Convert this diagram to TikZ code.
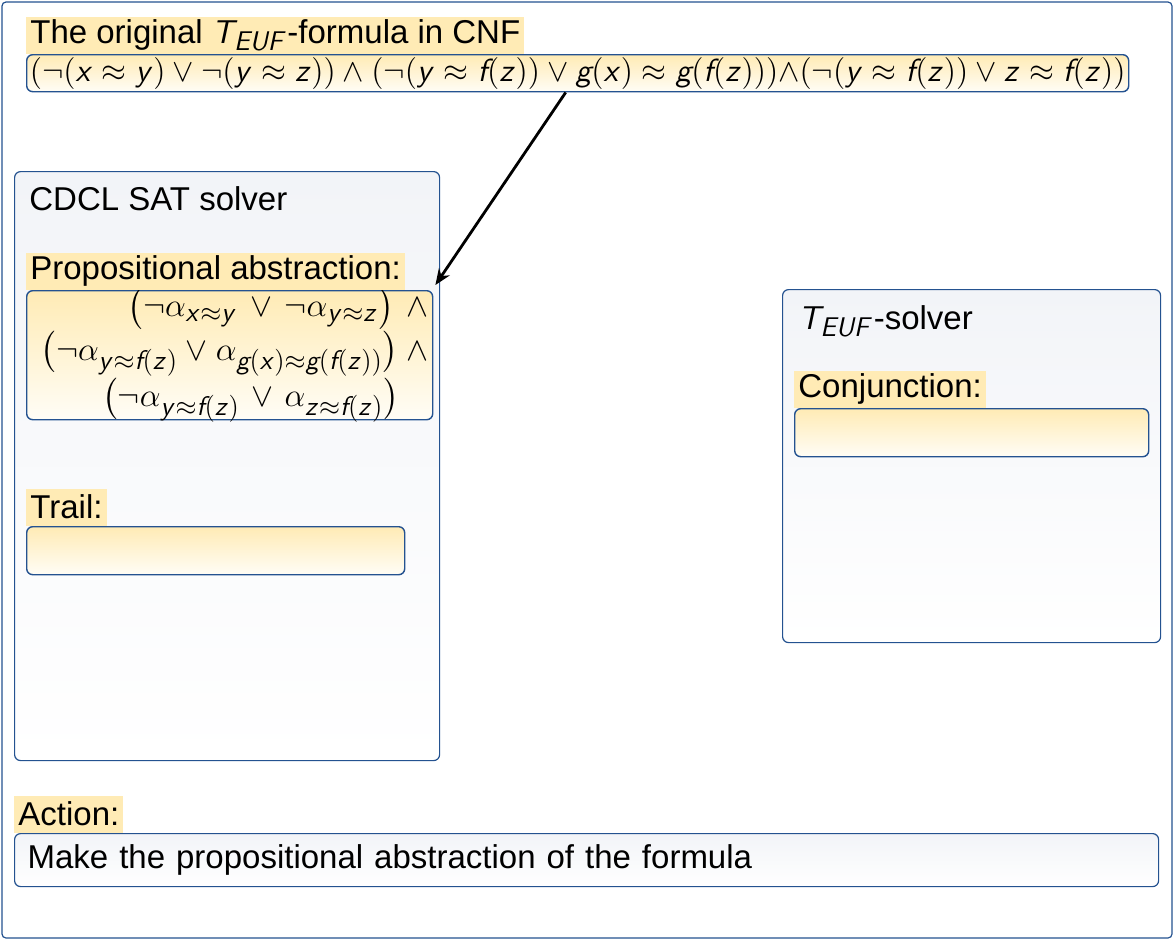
\RequirePackage{fix-cm}
\documentclass[tikz,border=0pt]{standalone}
\usepackage{amsmath}
\usepackage{fontspec}
\setmainfont{Liberation Sans}
\usetikzlibrary{arrows.meta,positioning}
\DeclareSymbolFont{sfletters}{OT1}{cmss}{m}{sl}
\DeclareSymbolFont{sfup}{OT1}{cmss}{m}{n}
\DeclareMathSymbol{x}{\mathalpha}{sfletters}{`x}
\DeclareMathSymbol{y}{\mathalpha}{sfletters}{`y}
\DeclareMathSymbol{z}{\mathalpha}{sfletters}{`z}
\DeclareMathSymbol{T}{\mathalpha}{sfletters}{`T}
\DeclareMathSymbol{E}{\mathalpha}{sfletters}{`E}
\DeclareMathSymbol{U}{\mathalpha}{sfletters}{`U}
\DeclareMathSymbol{F}{\mathalpha}{sfletters}{`F}
\DeclareMathSymbol{(}{\mathopen}{sfup}{`(}
\DeclareMathSymbol{)}{\mathclose}{sfup}{`)}
\DeclareMathSizes{16.5}{16.5}{13.5}{10}
\DeclareMathSizes{16}{16}{13}{9.5}
\definecolor{Edge}{HTML}{245290}
\definecolor{Mark}{HTML}{FFEBB5}
\definecolor{MarkFade}{HTML}{FFFDF6}
\definecolor{Panel}{HTML}{F2F4F8}
\newcommand{\fs}{\fontsize{16.5}{20}\selectfont}
\newcommand{\sv}[1]{\text{\fontencoding{OT1}\fontfamily{cmss}\fontseries{m}\fontshape{sl}\selectfont #1}}
\newcommand{\Fn}{\sv{f}}
\newcommand{\Gn}{\sv{g}}
\newcommand{\Teuf}{T_{EUF}}
\tikzset{
  frame/.style={draw=Edge,line width=.6pt,rounded corners=2pt,fill=white},
  panel/.style={draw=Edge,line width=.6pt,rounded corners=3pt,top color=Panel,bottom color=white,anchor=north west,inner sep=0pt,font=\fs},
  slot/.style={draw=Edge,line width=.7pt,rounded corners=3pt,top color=Mark,bottom color=MarkFade,anchor=north west,inner sep=0pt,font=\fs},
  tag/.style={fill=Mark,anchor=south west,inner xsep=2pt,inner ysep=0pt,minimum height=18.5pt,font=\fs},
  head/.style={anchor=north west,inner sep=0pt,font=\fs},
  flow/.style={-{Stealth[length=8pt,width=6.5pt]},line width=1.4pt}
}

\begin{document}
\begin{tikzpicture}[x=.5pt,y=-.5pt]
  \useasboundingbox (0,0) rectangle (1175,942);
  \draw[frame] (2,2) rectangle (1172,938);
  % input formula
  \node[slot,minimum width=551pt,minimum height=18.5pt,font=\fontsize{16}{20}\selectfont] (cnf) at (26,54) {$(\neg(x\approx y)\vee\neg(y\approx z))\wedge(\neg(y\approx \Fn(z))\vee \Gn(x)\approx \Gn(\Fn(z))){\wedge}(\neg(y\approx \Fn(z))\vee z\approx \Fn(z))$};
  \node[tag] (cnftag) at (cnf.north west) {The original $\Teuf$-formula in CNF};
  % SAT solver
  \node[panel,minimum width=212.5pt,minimum height=294.5pt] (sat) at (14,171) {};
  \node[head] (satname) at ([shift={(7.5pt,-7.5pt)}]sat.north west) {CDCL SAT solver};
  \node[slot,minimum height=64.5pt,text width=199pt,inner xsep=2pt,inner ysep=-1.5pt,align=right,font=\fontsize{16.5}{17.5}\selectfont] (abs) at (26,290) {$\big(\neg\alpha_{x\approx y}\vee\neg\alpha_{y\approx z}\big)\:\wedge$\\$\big(\neg\alpha_{y\approx \Fn(z)}\vee\alpha_{\Gn(x)\approx \Gn(\Fn(z))}\big)\:\wedge$\\$\big(\neg\alpha_{y\approx \Fn(z)}\vee\alpha_{z\approx \Fn(z)}\big)\phantom{\:\wedge}$};
  \node[tag] (abstag) at (abs.north west) {Propositional abstraction:};
  \node[slot,minimum width=189pt,minimum height=24pt] (trail) at (26,526) {};
  \node[tag] (trailtag) at (trail.north west) {Trail:};
  % theory solver
  \node[panel,minimum width=189pt,minimum height=176.5pt] (euf) at (782,289) {};
  \node[head] (eufname) at ([shift={(8pt,-8pt)}]euf.north west) {$\Teuf$-solver};
  \node[slot,minimum width=177pt,minimum height=24pt] (conj) at (794,408) {};
  \node[tag] (conjtag) at (conj.north west) {Conjunction:};
  % action
  \node[panel,minimum width=572pt,minimum height=26.5pt,text width=559pt,inner xsep=6.5pt,align=left] (act) at (14,833) {Make the propositional abstraction of the formula};
  \node[tag] (acttag) at (act.north west) {Action:};
  \draw[flow] ([xshift=-6pt]cnf.south) -- ([xshift=1pt,yshift=2.5pt]abs.north east);
\end{tikzpicture}
\end{document}
